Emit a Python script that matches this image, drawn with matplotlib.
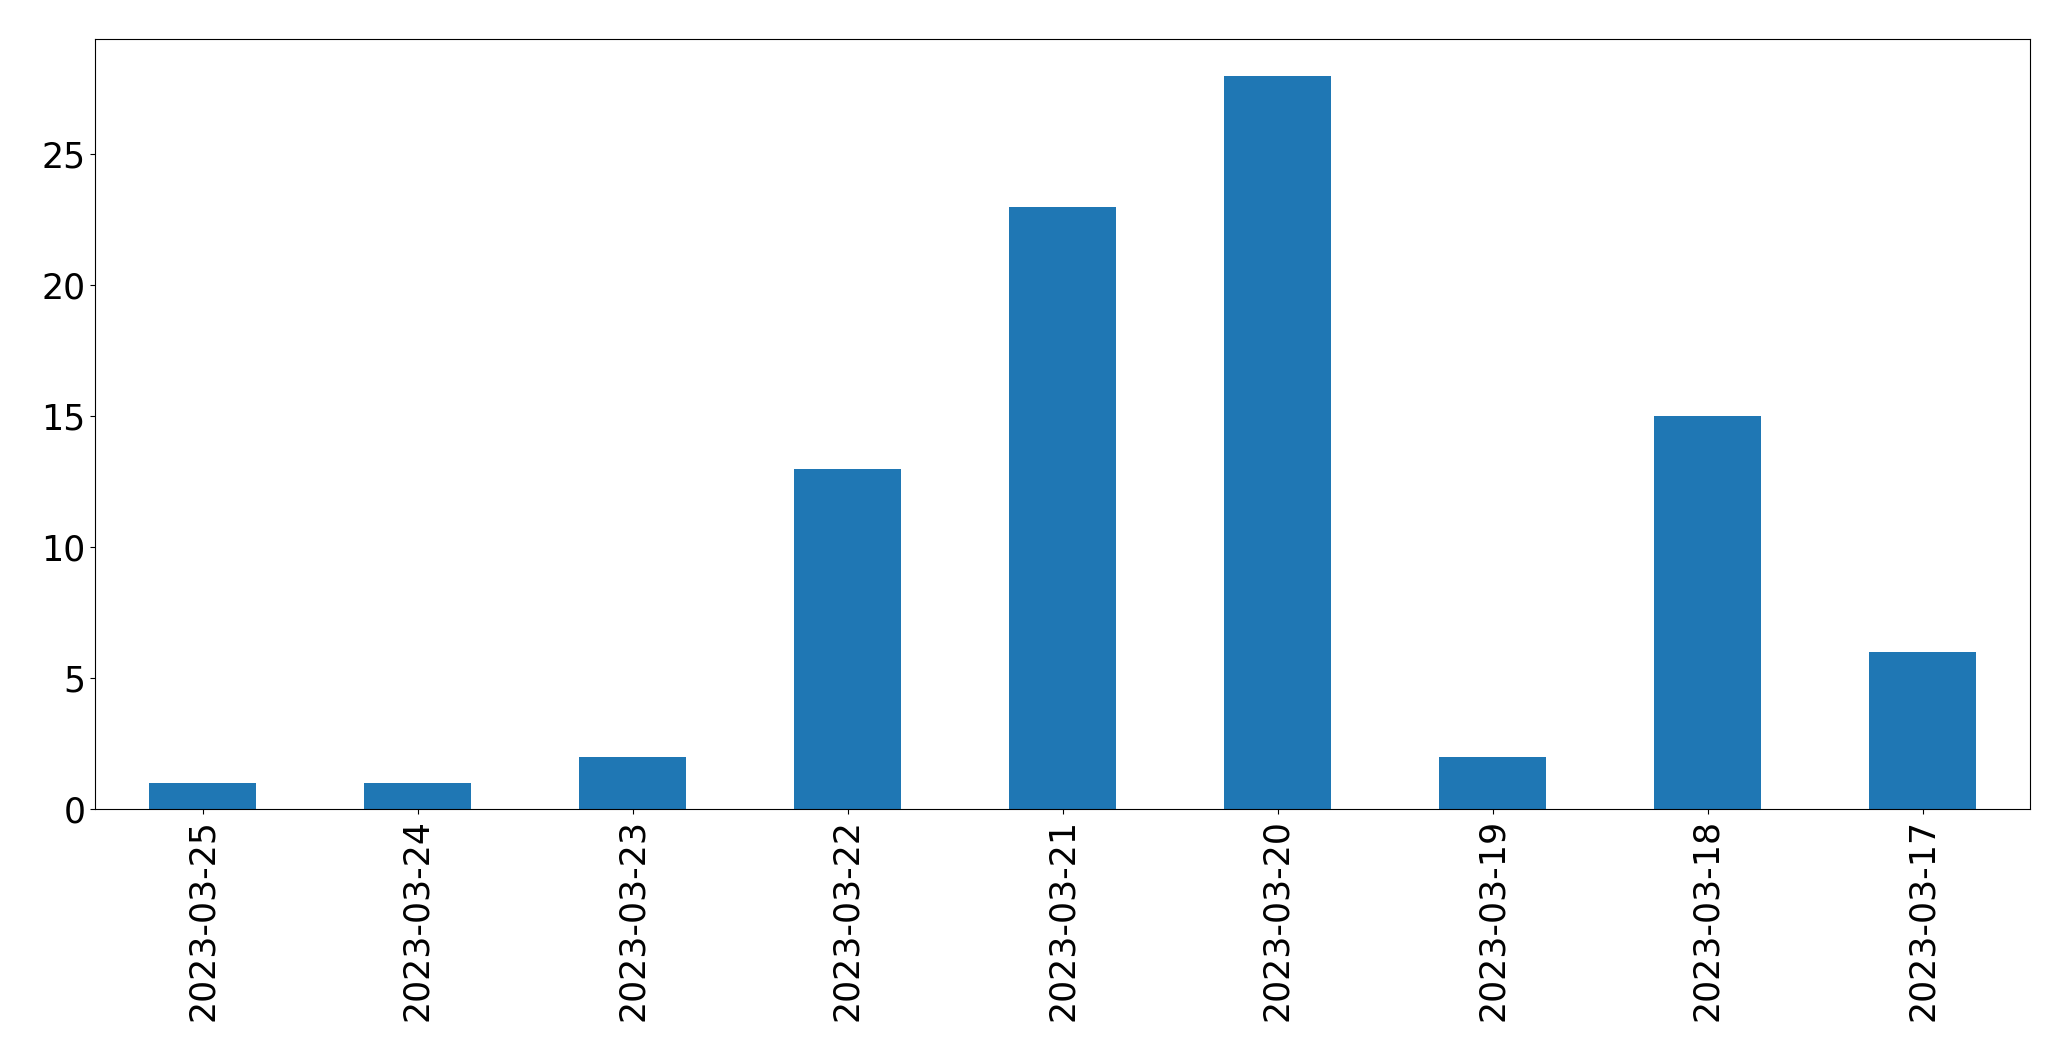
import matplotlib
matplotlib.use("Agg")
import matplotlib.pyplot as plt
import numpy as np

# counts per day, in the order shown
dates = ["2023-03-25", "2023-03-24", "2023-03-23", "2023-03-22", "2023-03-21",
         "2023-03-20", "2023-03-19", "2023-03-18", "2023-03-17"]
counts = [1, 1, 2, 13, 23, 28, 2, 15, 6]

fig = plt.figure(figsize=(20.71, 10.61), dpi=100)
ax = fig.add_axes([95 / 2071, 1 - 809 / 1061, (2030 - 95) / 2071, (809 - 39) / 1061])

x = np.arange(len(dates))
ax.bar(x, counts, width=0.5, color="#1f77b4")
ax.set_xlim(-0.5, len(dates) - 0.5)
ax.set_ylim(0, max(counts) * 1.05)
ax.set_xticks(x)
ax.set_xticklabels(dates, rotation=90)
ax.tick_params(axis="both", labelsize=25)

fig.savefig("out.png", dpi=100)
